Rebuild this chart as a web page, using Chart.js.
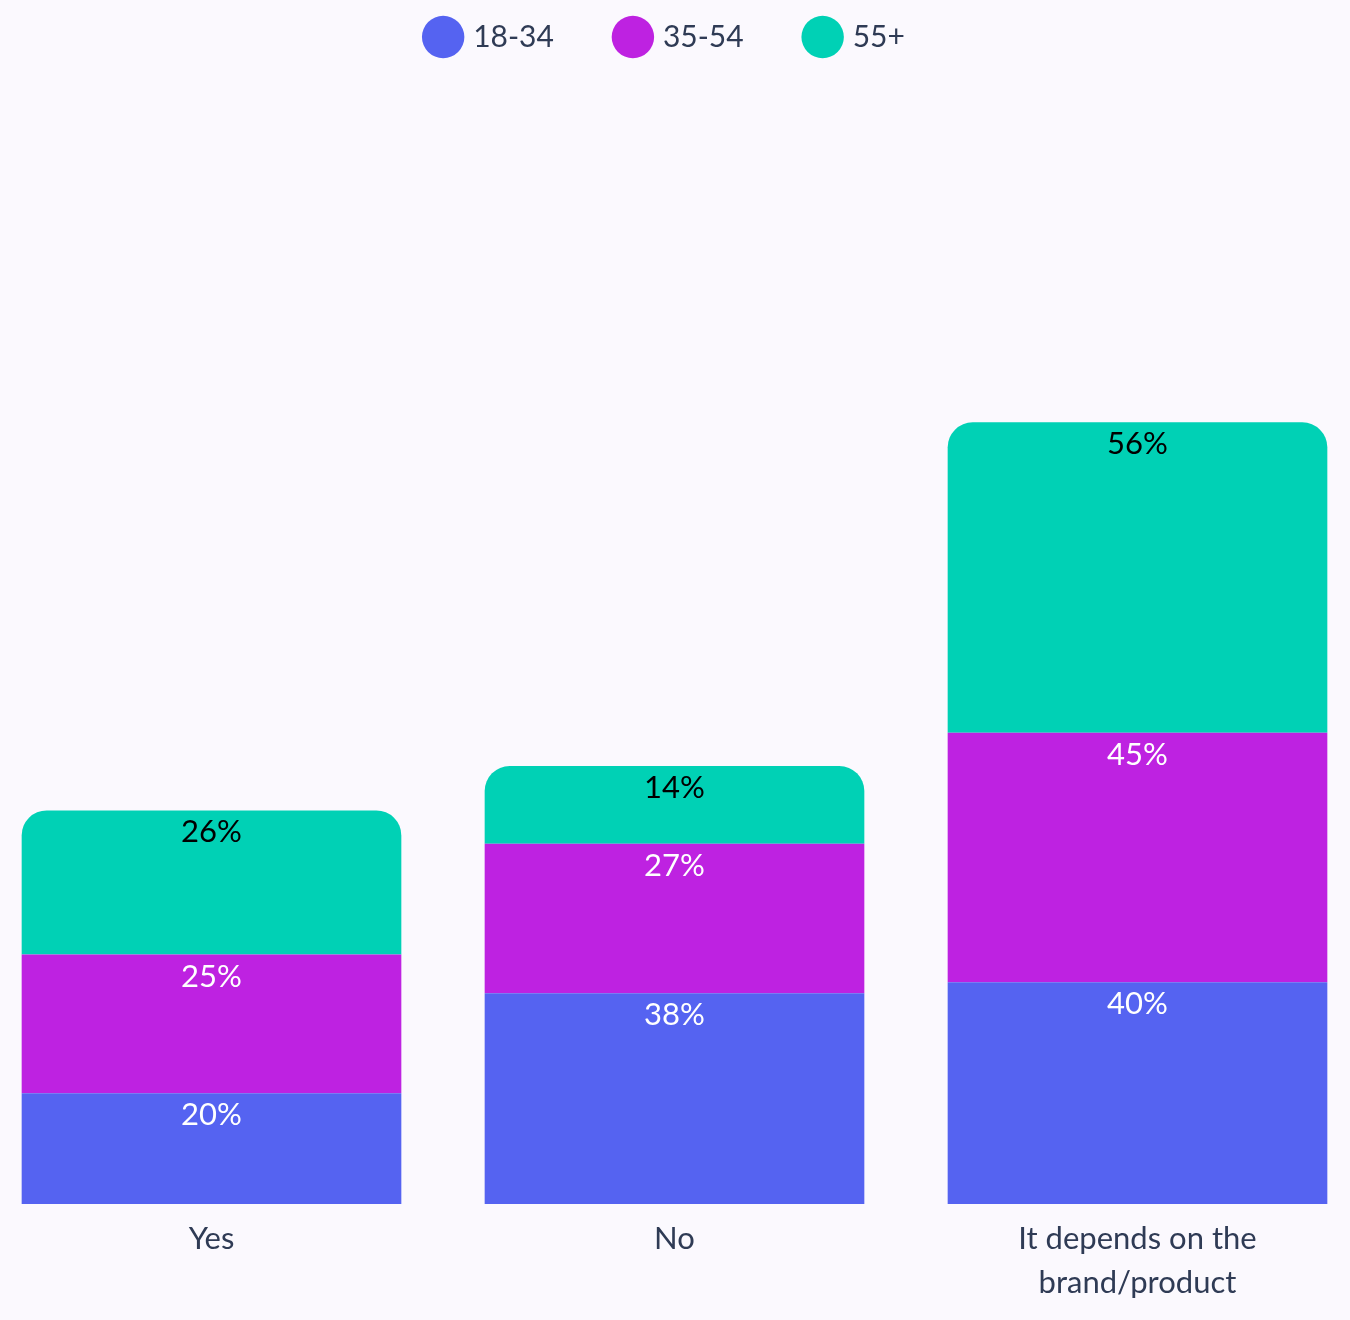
<!DOCTYPE html>
<html>
<head>
<meta charset="utf-8">
<script src="https://cdn.jsdelivr.net/npm/chart.js@4.4.1/dist/chart.umd.min.js"></script>
<style>
  html, body { margin: 0; padding: 0; background: #fbf9fe; overflow: hidden; }
  #wrap { position: absolute; left: -36px; top: 0; width: 1405px; height: 1320px; }
</style>
</head>
<body>
<div id="wrap"><canvas id="grafico"></canvas></div>
<script>
// categorias y series
const categorias = ['Yes', 'No', ['It depends on the', 'brand/product']];
const edad1834 = [20, 38, 40];
const edad3554 = [25, 27, 45];
const edad55 = [26, 14, 56];

const colores = ['#5563f1', '#be22e1', '#00d1b5'];
const textoOscuro = '#2f3b55';

// etiquetas de valor arriba de cada segmento
const etiquetasPlugin = {
  id: 'etiquetas',
  afterDatasetsDraw(chart) {
    const ctx = chart.ctx;
    ctx.save();
    ctx.font = '31px Lato';
    ctx.textAlign = 'center';
    ctx.textBaseline = 'middle';
    chart.data.datasets.forEach((ds, i) => {
      const meta = chart.getDatasetMeta(i);
      meta.data.forEach((bar, j) => {
        const top = Math.min(bar.y, bar.base);
        ctx.fillStyle = i === 2 ? '#000000' : '#ffffff';
        ctx.fillText(ds.data[j] + '%', bar.x, top + 22);
      });
    });
    ctx.restore();
  }
};

const ctx = document.getElementById('grafico').getContext('2d');
new Chart(ctx, {
  type: 'bar',
  data: {
    labels: categorias,
    datasets: [
      { label: '18-34', data: edad1834, backgroundColor: colores[0] },
      { label: '35-54', data: edad3554, backgroundColor: colores[1] },
      {
        label: '55+', data: edad55, backgroundColor: colores[2],
        borderRadius: { topLeft: 25, topRight: 25, bottomLeft: 0, bottomRight: 0 },
        borderSkipped: 'bottom'
      }
    ]
  },
  options: {
    responsive: true,
    maintainAspectRatio: false,
    animation: false,
    datasets: { bar: { categoryPercentage: 0.82, barPercentage: 1 } },
    layout: { padding: { top: -42, bottom: 10 } },
    plugins: {
      legend: {
        position: 'top',
        labels: {
          usePointStyle: true,
          pointStyle: 'circle',
          boxWidth: 30,
          boxHeight: 30,
          padding: 64,
          color: textoOscuro,
          font: { family: 'Lato', size: 30 }
        }
      },
      tooltip: { enabled: false }
    },
    scales: {
      x: {
        stacked: true,
        grid: { display: false },
        border: { display: false },
        ticks: {
          color: textoOscuro,
          font: { family: 'Lato', size: 31, lineHeight: 44 / 31 },
          padding: 5
        }
      },
      y: {
        stacked: true,
        min: 0,
        max: 206,
        grid: { display: false },
        border: { display: false },
        ticks: { display: false },
        afterFit(scale) { scale.width = 16; }
      }
    }
  },
  plugins: [etiquetasPlugin]
});
</script>
</body>
</html>
